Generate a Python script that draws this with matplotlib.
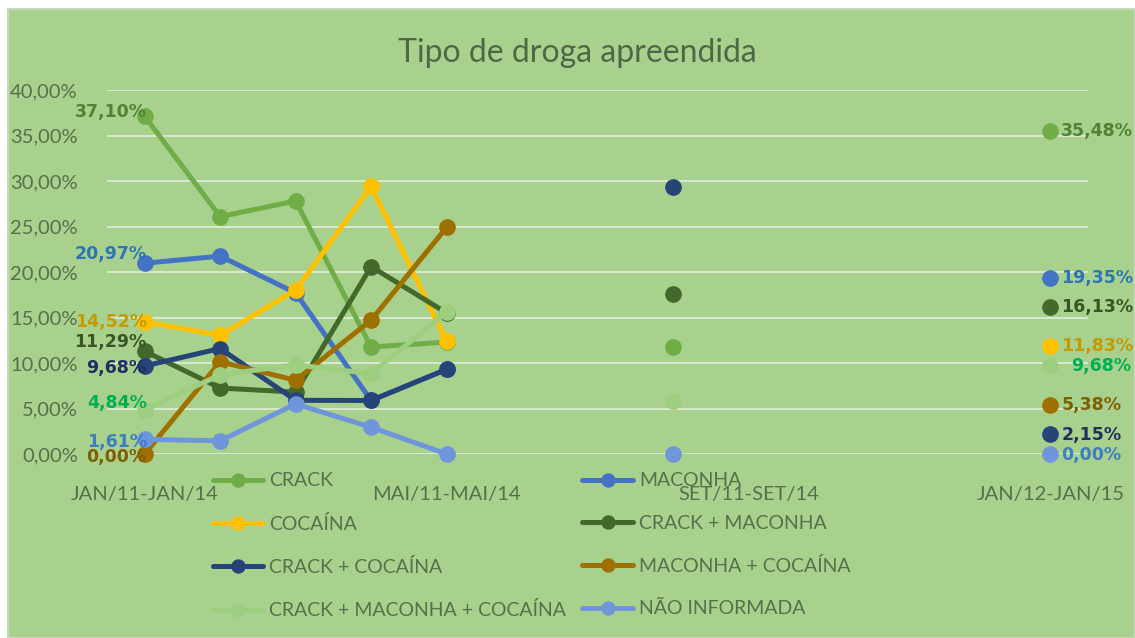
import numpy as np
import matplotlib
matplotlib.use("Agg")
import matplotlib.pyplot as plt
from matplotlib.ticker import FuncFormatter

plt.rcParams['font.family'] = ['Lato', 'DejaVu Sans']

# categories (13 periods, only every 4th label is shown)
months = ["JAN", "FEV", "MAR", "ABR", "MAI", "JUN", "JUL", "AGO", "SET", "OUT", "NOV", "DEZ"]
categories = [f"{m}/11-{m}/14" for m in months] + ["JAN/12-JAN/15"]

nan = np.nan
series_names = ["CRACK", "MACONHA", "COCAÍNA", "CRACK + MACONHA",
                "CRACK + COCAÍNA", "MACONHA + COCAÍNA",
                "CRACK + MACONHA + COCAÍNA", "NÃO INFORMADA"]

crack = [37.10, 26.09, 27.8, 11.76, 12.3, nan, nan, 11.8, nan, nan, nan, nan, 35.48]
maconha = [20.97, 21.74, 17.7, 5.88, 9.3, nan, nan, nan, nan, nan, nan, nan, 19.35]
cocaina = [14.52, 13.04, 18.0, 29.41, 12.4, nan, nan, nan, nan, nan, nan, nan, 11.83]
crack_maconha = [11.29, 7.25, 6.8, 20.59, 15.5, nan, nan, 17.6, nan, nan, nan, nan, 16.13]
crack_cocaina = [9.68, 11.59, 5.9, 5.88, 9.3, nan, nan, 29.3, nan, nan, nan, nan, 2.15]
maconha_cocaina = [0.00, 10.14, 8.1, 14.71, 24.9, nan, nan, nan, nan, nan, nan, nan, 5.38]
crack_mac_coc = [4.84, 8.70, 9.8, 8.82, 15.6, nan, nan, 5.8, nan, nan, nan, nan, 9.68]
nao_informada = [1.61, 1.45, 5.5, 2.94, 0.0, nan, nan, 0.0, nan, nan, nan, nan, 0.00]

all_series = [crack, maconha, cocaina, crack_maconha, crack_cocaina,
              maconha_cocaina, crack_mac_coc, nao_informada]

line_colors = ["#70AD47", "#4472C4", "#FFC000", "#43682B",
               "#264478", "#9E7000", "#9ECE80", "#6F95DA"]
label_colors = ["#548235", "#2E75B6", "#C49A00", "#375623",
                "#1F2F60", "#7F6000", "#00B050", "#3C7DC4"]
# vertical nudges (pixels) of the data labels at first / last point
first_dy = [4, 9, 0, 9, -2, -3, 7, -3]
last_dy = [0, 0, 0, 0, -1, 0, 0, -1]
last_dx = [0, 0, 0, 0, 0, 0, 10, 0]

bg = "#A9D18E"
fig = plt.figure(figsize=(11.35, 6.38), dpi=100)
fig.patch.set_facecolor("white")
# chart area
fig.patches.append(plt.Rectangle((8 / 1135, 0), 1 - 8 / 1135, 1 - 9 / 638,
                                 transform=fig.transFigure, facecolor=bg,
                                 edgecolor="#C5D9BB", linewidth=1.5, zorder=-5))

ax = fig.add_axes([107 / 1135, 1 - 454 / 638, (1088 - 107) / 1135, (454 - 90) / 638])
ax.set_facecolor("none")
ax.set_zorder(2)
x = np.arange(len(categories))

handles = []
for name, vals, lc in zip(series_names, all_series, line_colors):
    h, = ax.plot(x, vals, color=lc, lw=3.6, marker="o", ms=11,
                 solid_capstyle="round", label=name, zorder=3, clip_on=False)
    handles.append(h)

def pct(v):
    return f"{v:.2f}%".replace(".", ",")

lbl_font = dict(fontsize=12.5, fontweight="bold", family="DejaVu Sans")
for vals, c, dy0, dy1, dx1 in zip(all_series, label_colors, first_dy, last_dy, last_dx):
    ax.annotate(pct(vals[0]), (x[0], vals[0]), xytext=(2, dy0), textcoords="offset pixels",
                ha="right", va="center", color=c, zorder=5, **lbl_font)
    ax.annotate(pct(vals[-1]), (x[-1], vals[-1]), xytext=(11 + dx1, dy1), textcoords="offset pixels",
                ha="left", va="center", color=c, zorder=5, **lbl_font)

ax.set_xlim(-0.5, len(categories) - 0.5)
ax.set_ylim(0, 40)
ax.set_yticks(np.arange(0, 41, 5))
ax.yaxis.set_major_formatter(FuncFormatter(lambda v, p: f"{v:.2f}%".replace(".", ",")))
ax.set_xticks(x[::4])
ax.set_xticklabels(categories[::4])
ax.grid(axis="y", color="#DDEBD3", lw=1.3, zorder=1)
ax.set_axisbelow(True)
for s in ax.spines.values():
    s.set_visible(False)
tick_color = "#56704A"
ax.tick_params(axis="y", length=0, pad=21, labelsize=14.5, labelcolor=tick_color)
ax.tick_params(axis="x", length=0, pad=23, labelsize=14.5, labelcolor=tick_color)

fig.text(577 / 1135, 1 - 53 / 638, "Tipo de droga apreendida", ha="center", va="center",
         fontsize=23, color="#4E6847")

order = [0, 2, 4, 6, 1, 3, 5, 7]
leg = fig.legend([handles[i] for i in order], [series_names[i] for i in order],
                 ncol=2, loc="upper left", bbox_to_anchor=(195 / 1135, 1 - 455 / 638),
                 frameon=False, fontsize=14, handlelength=2.6, handletextpad=0.3,
                 labelspacing=1.3, columnspacing=0.85, markerscale=0.85)
for t in leg.get_texts():
    t.set_color(tick_color)

fig.savefig("out.png", dpi=100, facecolor=fig.get_facecolor())
